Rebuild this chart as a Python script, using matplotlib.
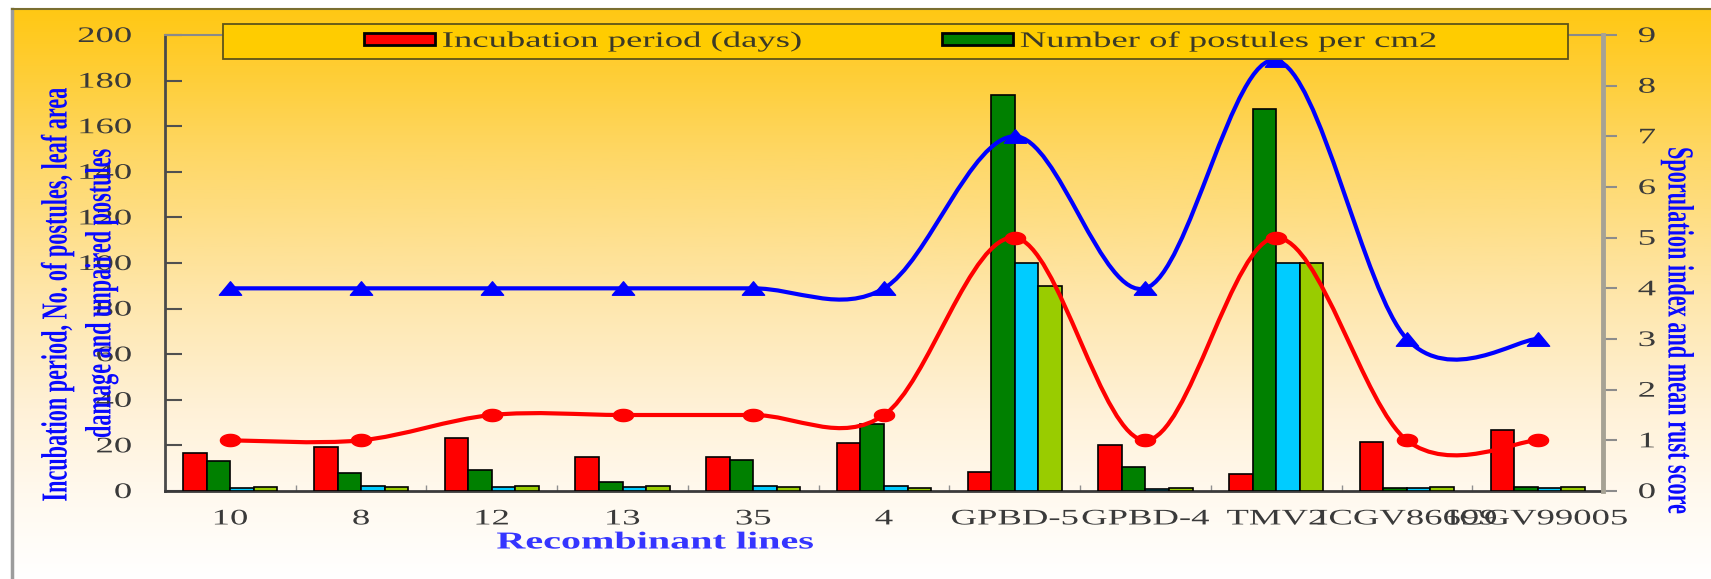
import numpy as np
import matplotlib
matplotlib.use("Agg")
import matplotlib.pyplot as plt
from matplotlib.path import Path
from matplotlib.patches import PathPatch, Rectangle, Patch
from matplotlib.patheffects import AbstractPathEffect
from matplotlib.transforms import Affine2D
from matplotlib.lines import Line2D

# recombinant lines and their scores
lines = ["10", "8", "12", "13", "35", "4", "GPBD-5", "GPBD-4", "TMV2", "ICGV86699", "ICGV99005"]
incubation = [16.8, 19.4, 23.2, 15.1, 15.1, 21.2, 8.4, 20.3, 7.4, 21.4, 26.7]
postules = [13.0, 7.8, 9.3, 3.8, 13.5, 29.3, 173.6, 10.4, 167.5, 1.2, 1.6]
leaf_damage = [1.3, 2.2, 1.7, 1.7, 2.2, 2.3, 100, 1.0, 100, 1.2, 1.2]
unpaired = [1.9, 1.9, 2.3, 2.3, 1.9, 1.3, 90, 1.2, 100, 1.6, 1.6]
sporulation = [4, 4, 4, 4, 4, 4, 7, 4, 8.5, 3, 3]
rust_score = [1, 1, 1.5, 1.5, 1.5, 1.5, 5, 1, 5, 1, 1]

W, H = 1711, 579
WIDE = 1.65
plt.rcParams["font.family"] = ["Liberation Serif", "DejaVu Serif"]


class Widen(AbstractPathEffect):
    """Draw glyphs scaled about the middle/left/right of the line."""

    def __init__(self, sx=WIDE, sy=1.0, anchor="center"):
        super().__init__()
        self.sx, self.sy, self.anchor = sx, sy, anchor

    def draw_path(self, renderer, gc, tpath, affine, rgbFace=None):
        if len(tpath.vertices) == 0:
            return
        ext = tpath.get_extents()
        px = {"left": 0.0, "center": (ext.x0 + ext.x1) / 2, "right": ext.x1}[self.anchor]
        py = (ext.y0 + ext.y1) / 2
        st = Affine2D().translate(-px, -py).scale(self.sx, self.sy).translate(px, py)
        renderer.draw_path(gc, tpath, st + affine, rgbFace)


def smooth_path(xs, ys):
    # catmull-rom style bezier through the points
    pts = np.column_stack([xs, ys]).astype(float)
    ext = np.vstack([pts[0], pts, pts[-1]])
    verts = [pts[0]]
    for i in range(len(pts) - 1):
        p0, p1, p2, p3 = ext[i], ext[i + 1], ext[i + 2], ext[i + 3]
        verts += [p1 + (p2 - p0) / 6, p2 - (p3 - p1) / 6, p2]
    codes = [Path.MOVETO] + [Path.CURVE4] * (len(verts) - 1)
    return Path(verts, codes)


fig = plt.figure(figsize=(W / 100, H / 100), dpi=100)

# gold to white background with frame
bg = fig.add_axes([12 / W, 0, 1 - 12 / W, 1 - 9 / H], zorder=-5)
t = np.linspace(0, 1, 400)
stops = [0, 0.1, 0.25, 0.5, 0.7, 0.85, 1.0]
rgb = np.array([(255, 200, 20), (255, 205, 50), (254, 215, 100), (254, 230, 170),
                (255, 241, 215), (255, 249, 238), (255, 255, 255)]) / 255
grad = np.stack([np.interp(t, stops, rgb[:, c]) for c in range(3)], axis=1)[:, None, :]
bg.imshow(grad, aspect="auto", extent=[0, 1, 0, 1])
bg.set_axis_off()
fig.add_artist(Line2D([12 / W, 12 / W], [0, 1 - 9 / H], color="#9c9c9c", lw=2.5,
                      transform=fig.transFigure))
fig.add_artist(Line2D([12 / W, 1], [1 - 9 / H, 1 - 9 / H], color="#7a6e30", lw=1.5,
                      transform=fig.transFigure))

ax = fig.add_axes([165 / W, 1 - 491 / H, (1603 - 165) / W, (491 - 35) / H])
ax.set_facecolor("none")
x = np.arange(len(lines))
bw = 0.18
series = [(incubation, "#FF0000"), (postules, "#008000"),
          (leaf_damage, "#00CCFF"), (unpaired, "#99CC00")]
for k, (vals, col) in enumerate(series):
    ax.bar(x + (k - 1.5) * bw, vals, bw, color=col, edgecolor="black", linewidth=1.2, zorder=3)

ax.set_xlim(-0.5, len(lines) - 0.5)
ax.set_ylim(0, 200)
ax.set_yticks(range(0, 201, 20))
ax.set_xticks(x, lines)
ax.set_xticks(np.arange(-0.5, len(lines)), minor=True)
ax.tick_params(axis="x", which="major", length=0, pad=14, labelsize=16, labelcolor="#3a3a3a")
ax.tick_params(axis="x", which="minor", direction="in", length=4, width=1, color="#909090")
ax.tick_params(axis="y", direction="in", length=12, width=1.5, color="#505050",
               pad=24, labelsize=16, labelcolor="#3a3a3a")
ax.spines["right"].set_visible(False)
ax.spines["left"].set_color("#4a4a4a")
ax.spines["left"].set_linewidth(2)
ax.spines["bottom"].set_color("#3a3a3a")
ax.spines["bottom"].set_linewidth(2)
ax.spines["top"].set_color("#8a8a8a")
ax.spines["top"].set_linewidth(1.5)
for lab in ax.get_xticklabels():
    lab.set_path_effects([Widen(anchor="center")])
for lab in ax.get_yticklabels():
    lab.set_path_effects([Widen(anchor="right")])

ax2 = ax.twinx()
ax2.set_ylim(0, 9)
ax2.set_yticks(range(10))
ax2.tick_params(axis="y", direction="out", length=10, width=1.5, color="#8c8c8c",
                pad=15, labelsize=16, labelcolor="#3a3a3a")
for side in ["left", "top", "bottom"]:
    ax2.spines[side].set_visible(False)
ax2.spines["right"].set_color("#a6a294")
ax2.spines["right"].set_linewidth(3.5)
for lab in ax2.get_yticklabels():
    lab.set_path_effects([Widen(anchor="left")])

# widened markers
tri = Path([[0, 1], [-WIDE, -1], [WIDE, -1], [0, 1]], closed=True)
ang = np.linspace(0, 2 * np.pi, 41)
oval = Path(np.column_stack([WIDE * np.cos(ang), np.sin(ang)]), closed=True)

ax2.add_patch(PathPatch(smooth_path(x, sporulation), fill=False, edgecolor="#0000FF",
                        lw=3, capstyle="round", zorder=4))
ax2.plot(x, sporulation, ls="none", marker=tri, ms=16, color="#0000FF", zorder=5)
ax2.add_patch(PathPatch(smooth_path(x, rust_score), fill=False, edgecolor="#FF0000",
                        lw=3, capstyle="round", zorder=4))
ax2.plot(x, rust_score, ls="none", marker=oval, ms=14.5, color="#FF0000", zorder=5)

# legend panel
fig.add_artist(Rectangle((223 / W, 1 - 59 / H), (1568 - 223) / W, (59 - 24) / H,
                         transform=fig.transFigure, facecolor="#FFCC00",
                         edgecolor="#5e5418", lw=1.3, zorder=3))
legend_kw = dict(loc="center left", frameon=False, fontsize=16, handlelength=3.2,
                 handleheight=0.5, handletextpad=0.3, borderpad=0, borderaxespad=0,
                 labelcolor="#3c3a26")
leg1 = fig.legend([Patch(facecolor="#FF0000", edgecolor="black", lw=2)],
                  ["Incubation period (days)"], bbox_to_anchor=(364 / W, 1 - 42 / H), **legend_kw)
leg2 = fig.legend([Patch(facecolor="#008000", edgecolor="black", lw=2)],
                  ["Number of postules per cm2"], bbox_to_anchor=(942 / W, 1 - 42 / H), **legend_kw)
for leg in (leg1, leg2):
    leg.set_zorder(6)
    for txt in leg.get_texts():
        txt.set_path_effects([Widen(anchor="left")])

# axis titles
fig.text(655 / W, 1 - 543 / H, "Recombinant lines", ha="center", va="center",
         fontsize=17.5, fontweight="bold", color="#3535ff", path_effects=[Widen()])
rot = dict(ha="center", va="center", fontsize=16, fontweight="bold", color="#0a0aff",
           path_effects=[Widen(sx=1.0, sy=WIDE)])
fig.text(58 / W, 1 - 294 / H, "Incubation period, No. of postules, leaf area", rotation=90, **rot)
fig.text(102 / W, 1 - 293 / H, "damage and unpaired postules", rotation=90, **rot)
fig.text(1677 / W, 1 - 331 / H, "Sporulation index and mean rust score", rotation=270, **rot)

fig.savefig("out.png", dpi=100)
